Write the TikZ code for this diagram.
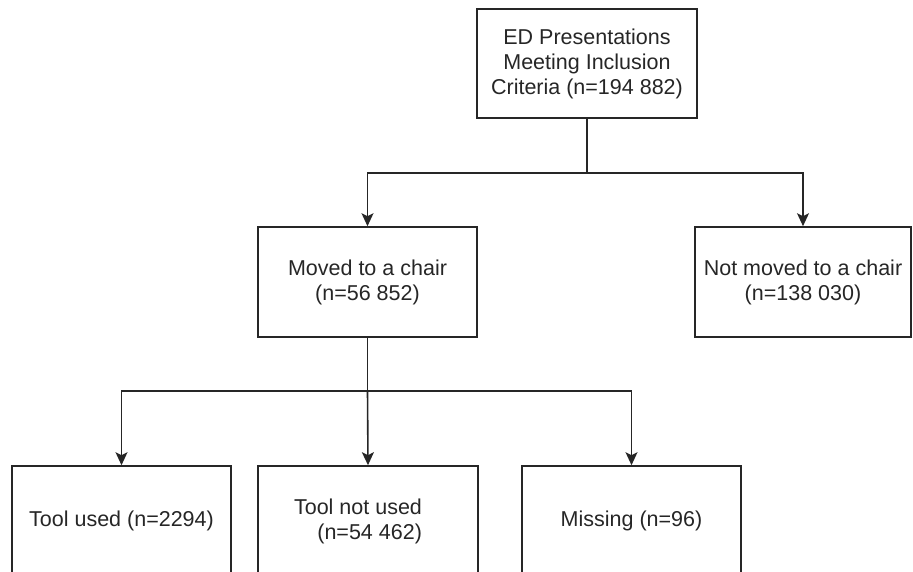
\documentclass[tikz,border=0pt]{standalone}
\usepackage{fontspec}
\setmainfont{Liberation Sans}
\usetikzlibrary{arrows.meta}
\definecolor{ink}{HTML}{262626}
\begin{document}
\begin{tikzpicture}[x=1pt,y=-1pt,
  box/.style={draw=ink, line width=1.6pt, rectangle, inner sep=0pt, align=center,
    text=ink, font=\fontsize{21.5}{25}\selectfont},
  conn/.style={draw=ink, line width=1.6pt},
  arr/.style={conn, -{Stealth[length=13pt,width=12pt,inset=3pt]}}]
\clip (0,0) rectangle (913,571);
\node[box, minimum width=220pt, minimum height=109pt] (top) at (587,63.5)
  {ED Presentations\\Meeting Inclusion\\Criteria (n=194 882)};
\node[box, minimum width=219pt, minimum height=110pt] (moved) at (367.5,282)
  {Moved to a chair\\(n=56 852)};
\node[box, minimum width=216pt, minimum height=110pt] (notmoved) at (803,282)
  {Not moved to a chair\\(n=138 030)};
\node[box, minimum width=219pt, minimum height=110pt] (used) at (121.5,521)
  {Tool used (n=2294)};
\node[box, minimum width=220pt, minimum height=110pt, align=right] (notused) at (368,521)
  {Tool not used\hspace*{20pt}\\(n=54 462)\hspace*{20pt}};
\node[box, minimum width=219pt, minimum height=110pt] (missing) at (631.5,521)
  {Missing (n=96)};
\coordinate (j1) at (587,173);
\coordinate (j2) at (367.5,391);
\draw[conn] (top.south) -- (j1);
\draw[arr] (j1) -| (moved.north);
\draw[arr] (j1) -| (notmoved.north);
\draw[conn] (moved.south) -- (j2);
\draw[arr] (j2) -| (used.north);
\draw[arr] (j2) -- (notused.north);
\draw[arr] (j2) -| (missing.north);
\end{tikzpicture}
\end{document}
